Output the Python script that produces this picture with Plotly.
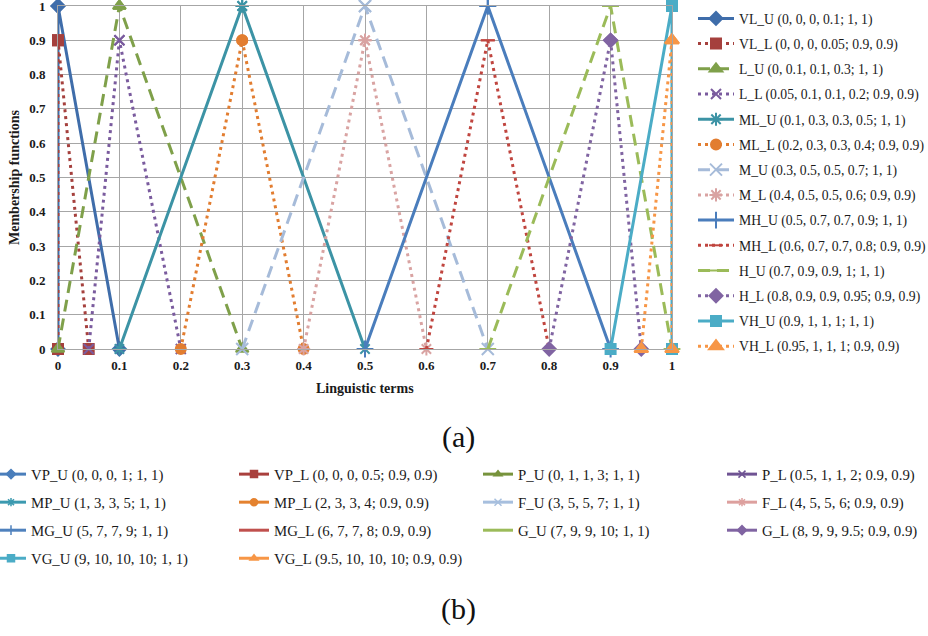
import plotly.graph_objects as go

# ---------------- data: panel (a) ----------------
terms_a = ["VL", "L", "ML", "M", "MH", "H", "VH"]
upper_a = [
    [0, 0, 0, 0.1],
    [0, 0.1, 0.1, 0.3],
    [0.1, 0.3, 0.3, 0.5],
    [0.3, 0.5, 0.5, 0.7],
    [0.5, 0.7, 0.7, 0.9],
    [0.7, 0.9, 0.9, 1],
    [0.9, 1, 1, 1],
]
lower_a = [
    [0, 0, 0, 0.05],
    [0.05, 0.1, 0.1, 0.2],
    [0.2, 0.3, 0.3, 0.4],
    [0.4, 0.5, 0.5, 0.6],
    [0.6, 0.7, 0.7, 0.8],
    [0.8, 0.9, 0.9, 0.95],
    [0.95, 1, 1, 1],
]
upper_h = 1.0
lower_h = 0.9

# ---------------- data: panel (b) ----------------
terms_b = ["VP", "P", "MP", "F", "MG", "G", "VG"]
upper_b = [
    [0, 0, 0, 1],
    [0, 1, 1, 3],
    [1, 3, 3, 5],
    [3, 5, 5, 7],
    [5, 7, 7, 9],
    [7, 9, 9, 10],
    [9, 10, 10, 10],
]
lower_b = [
    [0, 0, 0, 0.5],
    [0.5, 1, 1, 2],
    [2, 3, 3, 4],
    [4, 5, 5, 6],
    [6, 7, 7, 8],
    [8, 9, 9, 9.5],
    [9.5, 10, 10, 10],
]

x_ticks = [0, 0.1, 0.2, 0.3, 0.4, 0.5, 0.6, 0.7, 0.8, 0.9, 1]
y_ticks = [0, 0.1, 0.2, 0.3, 0.4, 0.5, 0.6, 0.7, 0.8, 0.9, 1]

# ---------------- styles ----------------
DOT = "3px,4px"
DASH = "12px,7px"
style_a = {
    "VL_U": ("#3F6DAA", "solid", "diamond", 10),
    "VL_L": ("#A5403D", DOT, "square", 10),
    "L_U": ("#7FA04A", DASH, "triangle-up", 11),
    "L_L": ("#7A5B9E", DOT, "x-thin-open", 10),
    "ML_U": ("#3C93A5", "solid", "asterisk-open", 11),
    "ML_L": ("#E27D30", DOT, "circle", 10),
    "M_U": ("#A6BBD9", DASH, "x-thin-open", 12),
    "M_L": ("#D9A3A2", DOT, "asterisk-open", 11),
    "MH_U": ("#4A7DBC", "solid", "cross-thin-open", 12),
    "MH_L": ("#C0453F", DOT, "line-ew-open", 10),
    "H_U": ("#9BBB59", DASH, "line-ew-open", 12),
    "H_L": ("#8064A2", DOT, "diamond", 10),
    "VH_U": ("#4BACC6", "solid", "square", 10),
    "VH_L": ("#F79646", DOT, "triangle-up", 12),
}
style_b = {
    "VP_U": ("#4A7EBB", "diamond"),
    "VP_L": ("#A9403D", "square"),
    "P_U": ("#77933C", "triangle-up"),
    "P_L": ("#6F5393", "x-thin-open"),
    "MP_U": ("#3C9AB0", "asterisk-open"),
    "MP_L": ("#E4822F", "circle"),
    "F_U": ("#A7BFDE", "x-thin-open"),
    "F_L": ("#DDA09E", "asterisk-open"),
    "MG_U": ("#4F81BD", "cross-thin-open"),
    "MG_L": ("#C0504D", None),
    "G_U": ("#9BBB59", None),
    "G_L": ("#8064A2", "diamond"),
    "VG_U": ("#4BACC6", "square"),
    "VG_L": ("#F79646", "triangle-up"),
}


def fmt(v):
    return f"{v:g}"


def label(term, kind, p, h):
    hs = "1, 1" if h == 1 else "0.9, 0.9"
    return f"{term}_{kind} ({', '.join(fmt(v) for v in p)}; {hs})"


fig = go.Figure()

# ---------------- panel (a) traces ----------------
for i, term in enumerate(terms_a):
    for kind, params, h in (("U", upper_a[i], upper_h), ("L", lower_a[i], lower_h)):
        key = f"{term}_{kind}"
        color, dash, sym, ms = style_a[key]
        fig.add_trace(go.Scatter(
            x=params,
            y=[0, h, h, 0],
            mode="lines+markers",
            name=label(term, kind, params, h),
            line=dict(color=color, width=3, dash=dash),
            marker=dict(symbol=sym, size=ms, color=color,
                        line=dict(color=color, width=2)),
            cliponaxis=False,
            legend="legend",
            legendgroup=key,
        ))

# ---------------- panel (b) legend entries ----------------
columns_b = [
    [("VP", "U"), ("MP", "U"), ("MG", "U"), ("VG", "U")],
    [("VP", "L"), ("MP", "L"), ("MG", "L"), ("VG", "L")],
    [("P", "U"), ("F", "U"), ("G", "U")],
    [("P", "L"), ("F", "L"), ("G", "L")],
]
for ci, col in enumerate(columns_b):
    lg = f"legend{ci + 2}"
    for term, kind in col:
        idx = terms_b.index(term)
        params = upper_b[idx] if kind == "U" else lower_b[idx]
        h = upper_h if kind == "U" else lower_h
        key = f"{term}_{kind}"
        color, sym = style_b[key]
        fig.add_trace(go.Scatter(
            x=[None], y=[None],
            mode="lines+markers" if sym else "lines",
            name=label(term, kind, params, h),
            line=dict(color=color, width=3),
            marker=dict(symbol=sym or "circle", size=7, color=color,
                        line=dict(color=color, width=1.5)),
            legend=lg,
            legendgroup=key,
        ))

W, H = 928, 636
PL, PR, PT, PB = 58, 672, 6, 349
legend_font = dict(family="Liberation Serif", size=13.7, color="#1a1a1a")
legend_font_b = dict(family="Liberation Serif", size=14.8, color="#1a1a1a")


def cx(px):
    return px / W


def cy(py):
    return 1 - py / H


def px_to_paper(px, py):
    return (px - PL) / (PR - PL), (PB - py) / (PB - PT)


layout_legends = dict(
    legend=dict(x=cx(693), y=cy(3), xref="container", yref="container",
                xanchor="left", yanchor="top", font=legend_font,
                traceorder="grouped", tracegroupgap=4.4, itemwidth=36,
                maxheight=620, bgcolor="rgba(0,0,0,0)"),
)
b_x = [-9, 234, 478, 722]
for ci, px in enumerate(b_x):
    if px < 0:
        lx, ly = px_to_paper(px, 458)
        xr = yr = "paper"
    else:
        lx, ly = cx(px), cy(458)
        xr = yr = "container"
    layout_legends[f"legend{ci + 2}"] = dict(
        x=lx, y=ly, xref=xr, yref=yr,
        xanchor="left", yanchor="top", font=legend_font_b,
        traceorder="grouped", tracegroupgap=5.8, maxheight=300,
        bgcolor="rgba(0,0,0,0)")

grid_c = "#A6A6A6"
tick_font = dict(family="Liberation Serif", size=13, color="#1a1a1a")
title_font = dict(family="Liberation Serif", size=14, color="#1a1a1a")

ann = []
for text, (px, py), font, angle in [
    ("<b>Linguistic terms</b>", (365, 388), title_font, 0),
    ("<b>Membership functions</b>", (15, 177), title_font, -90),
    ("(a)", (458, 437), dict(family="Liberation Serif", size=30, color="#111"), 0),
    ("(b)", (458, 609), dict(family="Liberation Serif", size=30, color="#111"), 0),
]:
    ax_, ay_ = px_to_paper(px, py)
    ann.append(dict(text=text, x=ax_, y=ay_, xref="paper", yref="paper",
                    xanchor="center", yanchor="middle", showarrow=False,
                    font=font, textangle=angle))

fig.update_layout(
    width=W, height=H,
    margin=dict(l=PL, r=W - PR, t=PT, b=H - PB, autoexpand=False),
    paper_bgcolor="white", plot_bgcolor="white",
    xaxis=dict(range=[0, 1], tickvals=x_ticks, ticktext=[f"<b>{fmt(v)}</b>" for v in x_ticks],
               showgrid=True, gridcolor=grid_c, gridwidth=1, zeroline=False,
               showline=True, linecolor=grid_c, mirror=True, ticks="",
               tickfont=tick_font, ticklabelstandoff=4, automargin=False,
               ticklabeloverflow="allow"),
    yaxis=dict(range=[0, 1], tickvals=y_ticks, ticktext=[f"<b>{fmt(v)}</b>" for v in y_ticks],
               showgrid=True, gridcolor=grid_c, gridwidth=1, zeroline=False,
               showline=True, linecolor=grid_c, mirror=True, ticks="",
               tickfont=tick_font, ticklabelstandoff=9, automargin=False,
               ticklabeloverflow="allow"),
    annotations=ann,
    **layout_legends,
)

fig.write_html("out.html", config={"displayModeBar": False},
               post_script="document.body.style.margin='0px';")
